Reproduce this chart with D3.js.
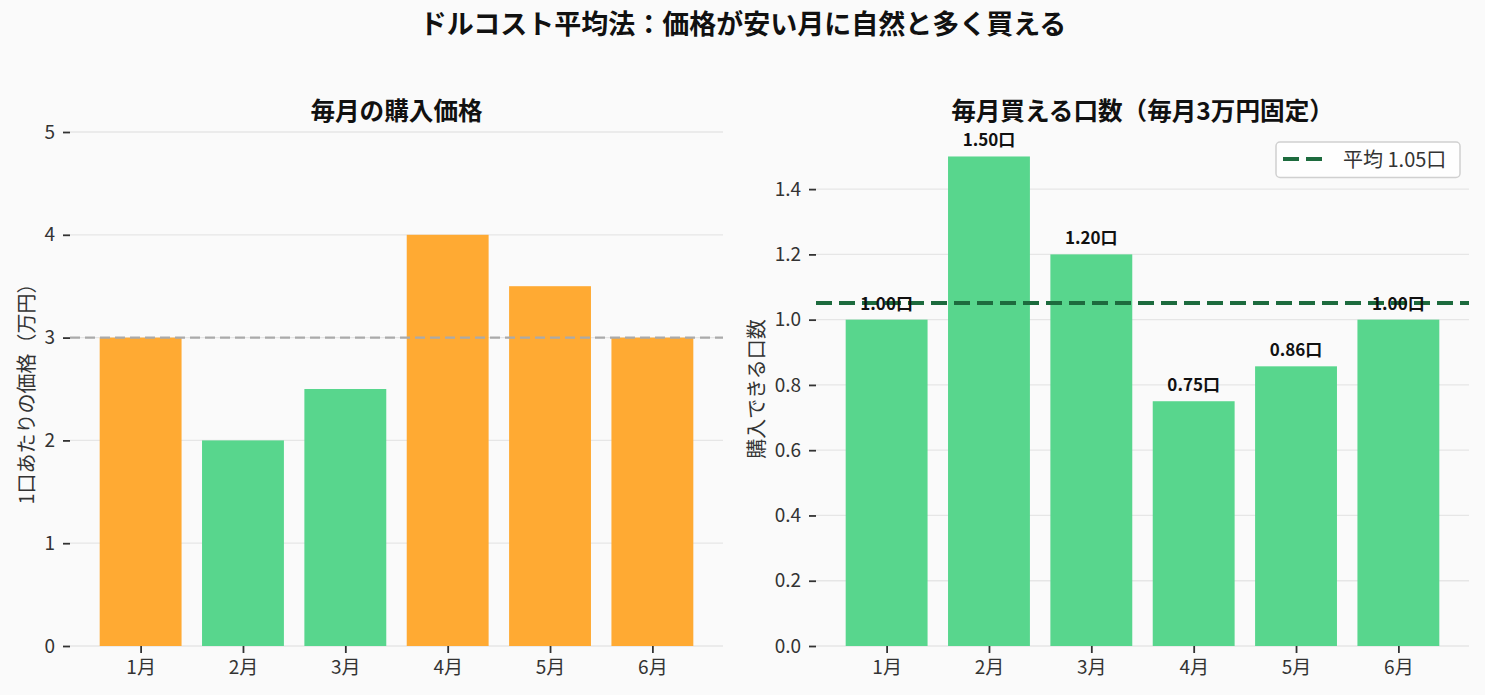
<!DOCTYPE html>
<html>
<head>
<meta charset="utf-8">
<script src="https://cdn.jsdelivr.net/npm/d3@7"></script>
<style>
  body { margin: 0; background: #fafafa; }
  svg { display: block; font-family: "Noto Sans CJK JP", "Noto Sans", sans-serif; }
</style>
</head>
<body>
<div id="chart"></div>
<script>
// data
const months = ['1月', '2月', '3月', '4月', '5月', '6月'];
const prices = [3, 2, 2.5, 4, 3.5, 3];            // 万円 per unit
const units = [1.00, 1.50, 1.20, 0.75, 0.857, 1.00]; // units bought with 3万円
const priceTicks = [0, 1, 2, 3, 4, 5];
const unitTicks = [0, 0.2, 0.4, 0.6, 0.8, 1.0, 1.2, 1.4];

const W = 1485, H = 695;
const ORANGE = '#FFAA33', GREEN = '#58D68D', DARK_GREEN = '#1D6B3E';
const avgPrice = d3.mean(prices);
const avgUnits = d3.mean(units);

const svg = d3.select('#chart').append('svg')
  .attr('width', W).attr('height', H);

svg.append('rect').attr('width', W).attr('height', H).attr('fill', '#fafafa');

svg.append('text')
  .attr('x', 743).attr('y', 34)
  .attr('text-anchor', 'middle')
  .attr('font-size', 27).attr('font-weight', 'bold').attr('fill', '#111')
  .text('ドルコスト平均法：価格が安い月に自然と多く買える');

function panel(opts) {
  const { left, right, top, bottom, yMax, ticks, fmt, title, ylabel, ylabelX } = opts;
  const g = svg.append('g');

  const x = d3.scaleLinear().domain([-0.69, 5.69]).range([left, right]);
  const y = d3.scaleLinear().domain([0, yMax]).range([bottom, top]);

  // gridlines
  g.selectAll('.grid').data(ticks).enter().append('line')
    .attr('x1', left).attr('x2', right)
    .attr('y1', d => y(d)).attr('y2', d => y(d))
    .attr('stroke', '#e6e6e6').attr('stroke-width', 1.3);

  // y axis
  const yAxis = g.append('g')
    .attr('transform', `translate(${left},0)`)
    .call(d3.axisLeft(y).tickValues(ticks).tickFormat(fmt).tickSize(7).tickPadding(8));
  yAxis.select('.domain').remove();
  yAxis.selectAll('.tick line').attr('stroke', '#333').attr('stroke-width', 1.8);
  yAxis.selectAll('.tick text').attr('font-size', 19).attr('fill', '#333')
    .attr('font-family', '"Noto Sans CJK JP", sans-serif');

  // x axis
  const xAxis = g.append('g')
    .attr('transform', `translate(0,${bottom})`)
    .call(d3.axisBottom(x).tickValues(d3.range(months.length))
      .tickFormat(i => months[i]).tickSize(7).tickPadding(8));
  xAxis.select('.domain').remove();
  xAxis.selectAll('.tick line').attr('stroke', '#333').attr('stroke-width', 1.8);
  xAxis.selectAll('.tick text').attr('font-size', 19).attr('fill', '#333')
    .attr('font-family', '"Noto Sans CJK JP", sans-serif');

  g.append('text')
    .attr('x', (left + right) / 2).attr('y', 120)
    .attr('text-anchor', 'middle')
    .attr('font-size', 24.6).attr('font-weight', 'bold').attr('fill', '#111')
    .text(title);

  g.append('text')
    .attr('transform', `translate(${ylabelX},${(top + bottom) / 2}) rotate(-90)`)
    .attr('text-anchor', 'middle')
    .attr('font-size', 20).attr('fill', '#333')
    .text(ylabel);

  return { g, x, y };
}

// left: purchase price per month
const L = panel({
  left: 70, right: 723, top: 132, bottom: 646, yMax: 5,
  ticks: priceTicks, fmt: d3.format('d'),
  title: '毎月の購入価格', ylabel: '1口あたりの価格（万円）', ylabelX: 34
});

L.g.selectAll('.bar').data(prices).enter().append('rect')
  .attr('x', (d, i) => L.x(i - 0.4))
  .attr('width', L.x(0.4) - L.x(-0.4))
  .attr('y', d => L.y(d))
  .attr('height', d => L.y(0) - L.y(d))
  .attr('fill', d => d < avgPrice ? GREEN : ORANGE);

L.g.append('line')
  .attr('x1', 70).attr('x2', 723)
  .attr('y1', L.y(avgPrice)).attr('y2', L.y(avgPrice))
  .attr('stroke', '#aaaaaa').attr('stroke-width', 2.4)
  .attr('stroke-dasharray', '10 5');

// right: units bought per month
const R = panel({
  left: 816, right: 1469, top: 132, bottom: 646, yMax: 1.5 * 1.05,
  ticks: unitTicks, fmt: d3.format('.1f'),
  title: '毎月買える口数（毎月3万円固定）', ylabel: '購入できる口数', ylabelX: 764
});

R.g.selectAll('.bar').data(units).enter().append('rect')
  .attr('x', (d, i) => R.x(i - 0.4))
  .attr('width', R.x(0.4) - R.x(-0.4))
  .attr('y', d => R.y(d))
  .attr('height', d => R.y(0) - R.y(d))
  .attr('fill', GREEN);

R.g.append('line')
  .attr('x1', 816).attr('x2', 1469)
  .attr('y1', R.y(avgUnits)).attr('y2', R.y(avgUnits))
  .attr('stroke', DARK_GREEN).attr('stroke-width', 4)
  .attr('stroke-dasharray', '16 7');

R.g.selectAll('.lbl').data(units).enter().append('text')
  .attr('x', (d, i) => R.x(i))
  .attr('y', d => R.y(d) - 10)
  .attr('text-anchor', 'middle')
  .attr('font-size', 17).attr('font-weight', 'bold').attr('fill', '#111')
  .text(d => d.toFixed(2) + '口');

// legend
const lg = svg.append('g').attr('transform', 'translate(1276,142)');
lg.append('rect')
  .attr('width', 184).attr('height', 35.5).attr('rx', 4)
  .attr('fill', '#ffffff').attr('fill-opacity', 0.8)
  .attr('stroke', '#d0d0d0').attr('stroke-width', 1.5);
lg.append('line')
  .attr('x1', 7).attr('x2', 46).attr('y1', 17).attr('y2', 17)
  .attr('stroke', DARK_GREEN).attr('stroke-width', 4)
  .attr('stroke-dasharray', '16 7');
lg.append('text')
  .attr('x', 67).attr('y', 24.5)
  .attr('font-size', 20).attr('fill', '#333')
  .text(`平均 ${avgUnits.toFixed(2)}口`);
</script>
</body>
</html>
